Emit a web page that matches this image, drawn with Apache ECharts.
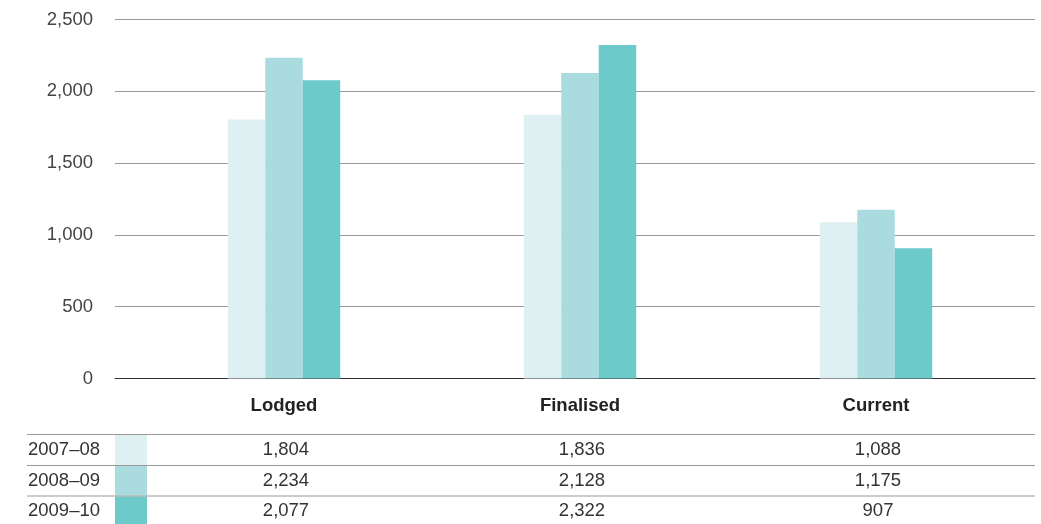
<!DOCTYPE html>
<html>
<head>
<meta charset="utf-8">
<script src="https://cdn.jsdelivr.net/npm/echarts@6/dist/echarts.min.js"></script>
<style>
  html, body { margin: 0; padding: 0; background: #fff; }
</style>
</head>
<body>
<div id="chart" style="width:1041px;height:524px;"></div>
<script>
// chart data
const categories = ['Lodged', 'Finalised', 'Current'];
const years = ['2007–08', '2008–09', '2009–10'];
const values0708 = [1804, 1836, 1088];
const values0809 = [2234, 2128, 1175];
const values0910 = [2077, 2322, 907];
const yTicks = [0, 500, 1000, 1500, 2000, 2500];

const colors = ['#dff0f3', '#aadcdf', '#6ccacb'];
const seriesValues = [values0708, values0809, values0910];
const fontFamily = '"Liberation Sans", Arial, Helvetica, sans-serif';

const fmt = v => v.toLocaleString('en-US');

const chart = echarts.init(document.getElementById('chart'));

const option = {
  animation: false,
  textStyle: { fontFamily: fontFamily },
  grid: [
    // background grid: gridlines and y labels
    { left: 115, right: 6, top: 19.5, bottom: 145.5 },
    // bars
    { left: 136, right: 17, top: 19.5, bottom: 145.5 }
  ],
  xAxis: [
    {
      gridIndex: 0,
      type: 'category',
      data: categories,
      axisLine: { show: true, lineStyle: { color: '#333', width: 1 } },
      axisTick: { show: false },
      axisLabel: { show: false }
    },
    {
      gridIndex: 1,
      type: 'category',
      data: categories,
      axisLine: { show: false },
      axisTick: { show: false },
      axisLabel: {
        margin: 18,
        color: '#222',
        fontSize: 18.5,
        fontWeight: 'bold',
        fontFamily: fontFamily
      }
    }
  ],
  yAxis: [
    {
      gridIndex: 0,
      type: 'value',
      min: yTicks[0],
      max: yTicks[yTicks.length - 1],
      interval: 500,
      axisLine: { show: false },
      axisTick: { show: false },
      axisLabel: {
        margin: 22,
        color: '#444',
        fontSize: 18.5,
        fontFamily: fontFamily,
        formatter: v => fmt(v)
      },
      splitLine: { lineStyle: { color: '#999', width: 1 } }
    },
    {
      gridIndex: 1,
      type: 'value',
      min: yTicks[0],
      max: yTicks[yTicks.length - 1],
      show: false,
      splitLine: { show: false }
    }
  ],
  series: years.map((y, i) => ({
    name: y,
    type: 'bar',
    xAxisIndex: 1,
    yAxisIndex: 1,
    barWidth: 37.5,
    barGap: '0%',
    itemStyle: { color: colors[i] },
    data: seriesValues[i],
    z: 3
  }))
};

chart.setOption(option);

// data table under the chart, built from the same arrays
const lineYs = [434.5, 465.5, 496, 526.5];
const graphics = [];
lineYs.slice(0, 3).forEach(y => {
  graphics.push({
    type: 'line',
    shape: { x1: 27, y1: y, x2: 1035, y2: y },
    style: { stroke: '#999', lineWidth: 1 },
    z: 10
  });
});
years.forEach((y, i) => {
  const top = lineYs[i] + 0.5;
  const bottom = lineYs[i + 1] - 0.5;
  const mid = (lineYs[i] + lineYs[i + 1]) / 2;
  graphics.push({
    type: 'rect',
    shape: { x: 115, y: top, width: 32, height: bottom - top },
    style: { fill: colors[i] },
    z: 9
  });
  graphics.push({
    type: 'text',
    x: 28,
    y: mid,
    style: {
      text: y,
      fill: '#333',
      font: '18.5px ' + fontFamily,
      textAlign: 'left',
      textVerticalAlign: 'middle'
    },
    z: 10
  });
  categories.forEach((c, j) => {
    const px = chart.convertToPixel({ xAxisIndex: 1 }, c);
    graphics.push({
      type: 'text',
      x: px + 2,
      y: mid,
      style: {
        text: fmt(seriesValues[i][j]),
        fill: '#333',
        font: '18.5px ' + fontFamily,
        textAlign: 'center',
        textVerticalAlign: 'middle'
      },
      z: 10
    });
  });
});
chart.setOption({ graphic: graphics });
</script>
</body>
</html>
